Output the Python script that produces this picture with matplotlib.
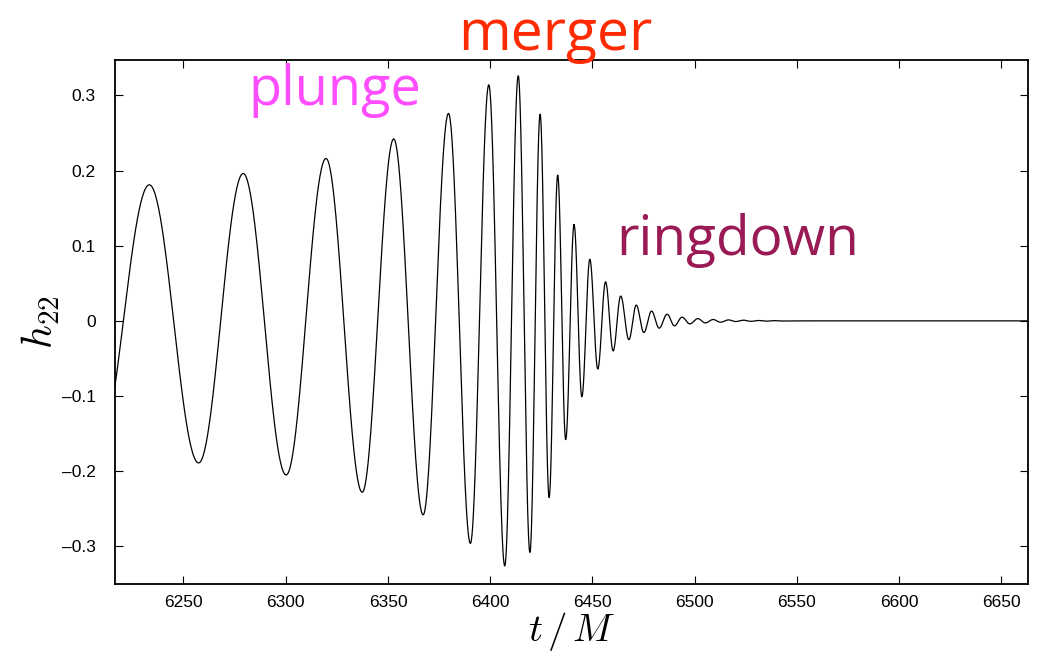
import numpy as np
import matplotlib
matplotlib.use("Agg")
import matplotlib.pyplot as plt

# extrema of h22 (t/M, h22)
peak_t = [6208.3, 6233.3, 6257.4, 6279.2, 6300.2, 6319.7, 6337.4, 6352.8, 6367.2,
          6379.6, 6390.3, 6399.3, 6407.1, 6413.7, 6419.4, 6424.4, 6428.8, 6433.0,
          6436.9, 6441.0, 6444.8, 6448.7, 6452.6, 6456.4, 6460.1, 6463.8, 6467.8,
          6471.4, 6475.1, 6478.9, 6482.6, 6486.5, 6490.1, 6493.8, 6497.6, 6501.5,
          6505.2, 6509.0, 6512.6, 6516.5, 6520.0, 6523.9, 6527.4, 6531.2, 6535.0,
          6538.8, 6542.6, 6555.0, 6663.0]
peak_h = [-0.172, 0.181, -0.189, 0.196, -0.205, 0.216, -0.228, 0.242, -0.258,
          0.276, -0.296, 0.314, -0.326, 0.326, -0.308, 0.275, -0.235, 0.194,
          -0.158, 0.128, -0.101, 0.082, -0.064, 0.052, -0.040, 0.033, -0.025,
          0.021, -0.0155, 0.013, -0.0097, 0.0089, -0.0066, 0.0049, -0.004, 0.003,
          -0.0027, 0.0018, -0.0018, 0.0013, -0.0009, 0.0009, -0.0006, 0.0005, -0.0004,
          0.0003, -0.0002, 0.0, 0.0]

x_ticks = [6250, 6300, 6350, 6400, 6450, 6500, 6550, 6600, 6650]
y_ticks = [-0.3, -0.2, -0.1, 0.0, 0.1, 0.2, 0.3]
y_ticklabels = ['\u20130.3', '\u20130.2', '\u20130.1', '0', '0.1', '0.2', '0.3']

phase_names = ['merger', 'plunge', 'ringdown']
phase_colors = ['#FF2A00', '#FF4DFF', '#991A55']
phase_sizes = [41, 39, 39.5]
phase_pos = [(6432, 0.360), (6324, 0.287), (6521, 0.088)]

# smooth half-cosine segments between successive extrema
tt, hh = [], []
for i in range(len(peak_t) - 1):
    s = np.linspace(0, 1, 60)
    t0, t1 = peak_t[i], peak_t[i + 1]
    h0, h1 = peak_h[i], peak_h[i + 1]
    tt.append(t0 + s * (t1 - t0))
    hh.append(h0 + (h1 - h0) * (1 - np.cos(np.pi * s)) / 2)
tt = np.concatenate(tt)
hh = np.concatenate(hh)

plt.rcParams['mathtext.fontset'] = 'cm'
plt.rcParams['font.family'] = ['Liberation Sans', 'DejaVu Sans']

fig = plt.figure(figsize=(10.53, 6.56), dpi=100)
ax = fig.add_axes([0.1092, 0.1098, 0.8671, 0.7987])
ax.plot(tt, hh, color='black', lw=0.9)

ax.set_xlim(6216.5, 6663)
ax.set_ylim(-0.35, 0.347)
ax.set_xticks(x_ticks)
ax.set_yticks(y_ticks)
ax.set_yticklabels(y_ticklabels)
ax.tick_params(direction='in', length=6, width=0.8, top=True, right=True,
               labelsize=12.5)
ax.tick_params(axis='x', pad=8)
ax.tick_params(axis='y', pad=14)
for sp in ax.spines.values():
    sp.set_linewidth(1.3)

ax.set_xlabel(r'$t\,/\,M$', fontsize=28, labelpad=0)
ax.set_ylabel(r'$h_{22}$', fontsize=30)
ax.yaxis.set_label_coords(-0.058, 0.5)

for name, col, size, (x, y) in zip(phase_names, phase_colors, phase_sizes, phase_pos):
    ax.text(x, y, name, color=col, fontsize=size, ha='center', va='baseline',
            family=['Open Sans', 'DejaVu Sans'], clip_on=False)

fig.savefig('out.png', dpi=100)
